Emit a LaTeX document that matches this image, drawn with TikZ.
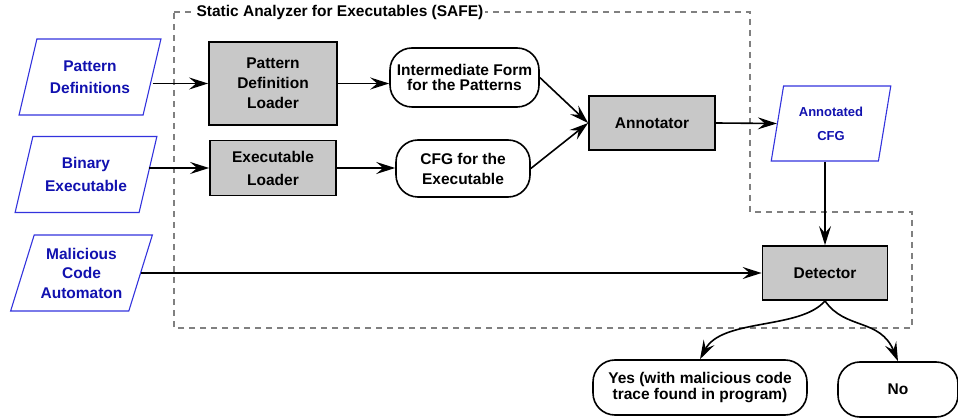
\documentclass[tikz,border=0pt]{standalone}
\usepackage{fontspec}
\setmainfont{Liberation Sans}
\usetikzlibrary{shapes.geometric,arrows.meta}

\tikzset{
  arr/.style={line width=1.6pt, -{Stealth[length=19pt,width=12pt,inset=7pt]}},
  datanode/.style={trapezium, trapezium stretches=true,
    trapezium left angle=68, trapezium right angle=112,
    draw=r51g51b221, line width=1.1pt, text=r17g17b175, align=center,
    inner sep=0pt, minimum width=142pt, minimum height=76pt,
    font=\bfseries\fontsize{15.5pt}{22.5pt}\selectfont},
  procbox/.style={rectangle, draw, fill=r200g200b200, line width=1.8pt,
    align=center, inner sep=0pt,
    font=\bfseries\fontsize{15.5pt}{20pt}\selectfont},
  resultbox/.style={rectangle, rounded corners=22pt, draw, line width=1.6pt,
    align=center, inner sep=0pt,
    font=\bfseries\fontsize{15.5pt}{20pt}\selectfont},
}

\begin{document}
\begin{tikzpicture}[x=1pt,y=-1pt]
\useasboundingbox (0,0) rectangle (958,419);

% Changing colors
\definecolor{r51g51b221}{rgb}{0.200000,0.200000,0.866667}%
\definecolor{r17g17b175}{rgb}{0.066667,0.066667,0.686275}%
\definecolor{r200g200b200}{rgb}{0.784314,0.784314,0.784314}%
\definecolor{r128g128b128}{rgb}{0.501961,0.501961,0.501961}%

% Drawing SAFE boundary
\draw [r128g128b128, line width=1.2pt, dash pattern=on 6pt off 5pt]
  (174,12) -- (750,12) -- (750,212) -- (912,212) -- (912,328) -- (174,328) -- cycle;%
\node [fill=white, inner xsep=2pt, inner ysep=1pt,
  font=\bfseries\fontsize{15.5pt}{18pt}\selectfont] (safe) at (340,12)
  {Static Analyzer for Executables (SAFE)};%

% Drawing inputs
\node [datanode] (patdef) at (90,77) {Pattern\\Definitions};%
\node [datanode] (binexe) at (86,174.5) {Binary\\Executable};%
\node [datanode, font=\bfseries\fontsize{15.5pt}{19.5pt}\selectfont] (malcode) at (81.5,273)
  {Malicious\\Code\\Automaton};%

% Drawing loaders and annotator
\node [procbox, minimum width=128pt, minimum height=83pt] (pdl) at (273,83.5)
  {Pattern\\Definition\\Loader};%
\node [procbox, minimum width=126pt, minimum height=55pt,
  font=\bfseries\fontsize{15.5pt}{23pt}\selectfont] (exeload) at (273,168)
  {Executable\\Loader};%
\node [procbox, minimum width=126pt, minimum height=54pt] (annot) at (652,123) {Annotator};%
\node [procbox, minimum width=125pt, minimum height=54pt] (detect) at (825,273) {Detector};%

% Drawing intermediate results
\node [resultbox, minimum width=149pt, minimum height=59pt,
  font=\bfseries\fontsize{15.5pt}{15.5pt}\selectfont] (interm) at (464.5,77.5)
  {Intermediate Form\\for the Patterns};%
\node [resultbox, minimum width=134pt, minimum height=57pt] (cfgexe) at (463,168.5)
  {CFG for the\\Executable};%
\node [datanode, trapezium left angle=76, trapezium right angle=104,
  minimum width=120pt, minimum height=75pt,
  font=\bfseries\fontsize{13pt}{24pt}\selectfont] (acfg) at (831,123.5)
  {Annotated\\CFG};%

% Drawing answers
\node [resultbox, minimum width=214pt, minimum height=55pt,
  font=\bfseries\fontsize{15.5pt}{16.5pt}\selectfont] (yes) at (700,387.5)
  {Yes (with malicious code\\trace found in program)};%
\node [resultbox, minimum width=120pt, minimum height=55pt] (no) at (898,389.5) {No};%

% Drawing connectors
\draw [arr] (patdef.east |- pdl.west) -- (pdl.west);%
\draw [arr] (binexe.east |- exeload.west) -- (exeload.west);%
\draw [arr] (malcode.east |- detect.west) -- (detect.west);%
\draw [arr] (pdl.east) -- (pdl.east -| interm.west);%
\draw [arr] (exeload.east) -- (exeload.east -| cfgexe.west);%
\draw [arr] (interm.east) -- (annot.west);%
\draw [arr] (cfgexe.east) -- (annot.west);%
\draw [arr] (annot.east) -- (acfg.west);%
\draw [arr] (acfg.south -| detect.north) -- (detect.north);%
\draw [arr] (detect.south) .. controls (800,330) and (722,318) .. (yes.north);%
\draw [arr] (detect.south) .. controls (845,330) and (880,318) .. (no.north);%
\end{tikzpicture}
\end{document}
